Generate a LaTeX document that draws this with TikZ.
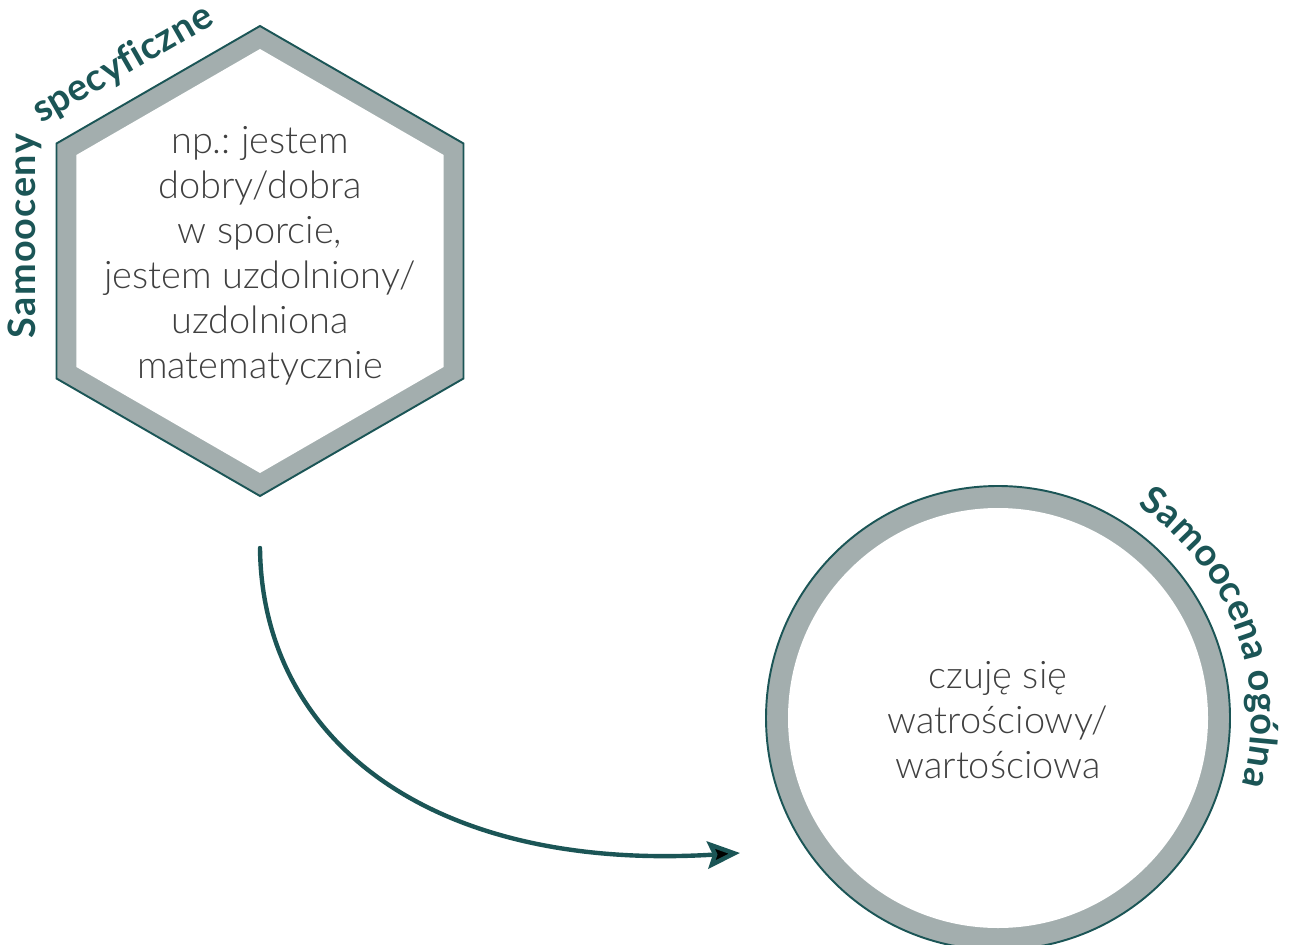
\documentclass[tikz,border=0pt]{standalone}
\usepackage{fontspec}
\IfFontExistsTF{Lato Light}{\newfontfamily\bodyfont{Lato Light}}{\newfontfamily\bodyfont{Lato}}
\newfontfamily\labelfam{Lato}
\usetikzlibrary{arrows.meta,decorations.text}
\frenchspacing
\definecolor{dteal}{HTML}{1B5556}
\definecolor{bandgray}{HTML}{A3AEAE}
\definecolor{txtgray}{HTML}{404040}
\tikzset{
  outline/.style={fill=bandgray, draw=dteal, line width=1.1pt, line join=miter},
  inner/.style={fill=white},
  bodytext/.style={align=center, text=txtgray, font=\bodyfont\fontsize{21.6}{25.6}\selectfont},
  labeltext/.style={decorate, decoration={text along path, text color=dteal,
      text align=fit to path,
      text={|\labelfam\bfseries\fontsize{21.5}{25}\selectfont|#1}}},
  connector/.style={draw=dteal, line width=2.5pt, line cap=round,
      -{Stealth[length=18.5pt,width=15.5pt,inset=3pt]}}
}
\begin{document}
\begin{tikzpicture}[x=0.02cm,y=0.02cm]
\clip (0,0) rectangle (1293,944);
% hexagon
\coordinate (hc) at (260,683);
\path[outline] (260,918) -- (463.5,800.5) -- (463.5,565.5) -- (260,448) -- (56.5,565.5) -- (56.5,800.5) -- cycle;
\path[inner] (260,895) -- (443.6,789) -- (443.6,577) -- (260,471) -- (76.4,577) -- (76.4,789) -- cycle;
\node[bodytext] (spec) at (260,688) {np.: jestem\\dobry/dobra\\w sporcie,\\jestem uzdolniony/\\uzdolniona\\matematycznie};
\coordinate (l1a) at (36,606);
\coordinate (l1b) at (36,810);
\coordinate (l2a) at (41,820.2);
\coordinate (l2b) at (216,920.6);
\path[labeltext={Samooceny}] (l1a) -- (l1b);
\path[labeltext={specyficzne}] (l2a) -- (l2b);
% circle
\coordinate (gc) at (998,226);
\path[outline] (gc) circle[radius=232];
\path[inner] (gc) circle[radius=210];
\node[bodytext] (gen) at (998,224) {czuję się\\watrościowy/\\wartościowa};
\coordinate (l3a) at (1137.7,438.2);
\path[labeltext={Samoocena ogólna}] (l3a) arc[start angle=56.6, end angle=-15.5, radius=253];
% connector
\coordinate (a0) at (260,396);
\coordinate (a1) at (740,91);
\draw[connector] (a0) .. controls (262,204) and (430,72) .. (a1);
\end{tikzpicture}
\end{document}
